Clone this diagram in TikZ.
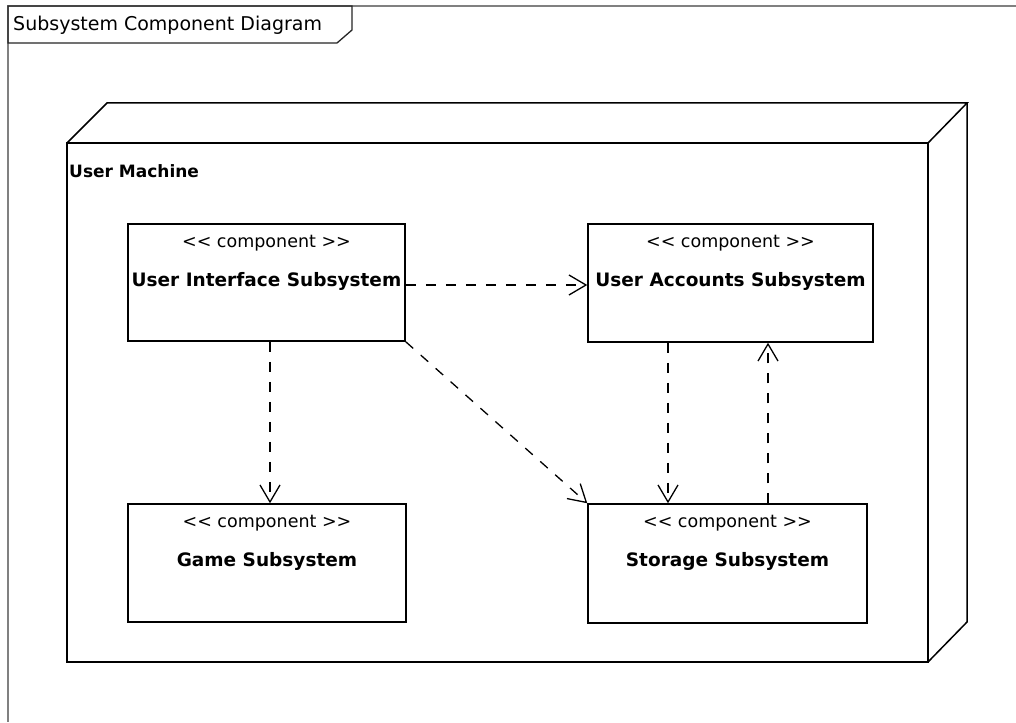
\documentclass[tikz,border=0pt]{standalone}
\usepackage{fontspec}
\setmainfont{DejaVu Sans}
\usetikzlibrary{arrows.meta}
\definecolor{framegray}{RGB}{128,128,128}
\tikzset{
  comp/.style={draw=black, line width=1.5pt, fill=white, rectangle, inner sep=0pt},
  stereo/.style={font=\fontsize{17.5}{20}\selectfont, inner sep=0pt, anchor=center},
  ctitle/.style={font=\fontsize{18.5}{21}\bfseries\selectfont, inner sep=0pt, anchor=center},
  dep/.style={line width=1.3pt, dash pattern=on 10pt off 10pt,
    -{Straight Barb[length=17pt,width=20pt,line width=1.3pt]}},
  nodeline/.style={line width=1.5pt, line join=miter}
}
\begin{document}
\begin{tikzpicture}[x=1pt,y=-1pt]
\useasboundingbox[fill=white] (0,0) rectangle (1016,722);
% frame
\draw[framegray, line width=1.5pt] (1016,6) -- (8,6) -- (8,722);
\draw[line width=1.3pt, black!85] (8,6) -- (352,6) -- (352,30) -- (337,43) -- (8,43) -- cycle;
\node[anchor=west, inner sep=0pt, font=\fontsize{19}{22}\selectfont] (title) at (13,25) {Subsystem Component Diagram};
% 3D node
\draw[nodeline] (67,143) rectangle (928,662);
\draw[nodeline] (67,143) -- (107,103) -- (967,103) -- (928,143);
\draw[nodeline] (967,103) -- (967,622) -- (928,662);
\node[anchor=west, inner sep=0pt, font=\fontsize{17}{20}\bfseries\selectfont] (um) at (69,171) {User Machine};
% components
\node[comp, minimum width=277pt, minimum height=117pt] (ui) at (266.5,282.5) {};
\node[comp, minimum width=285pt, minimum height=118pt] (ua) at (730.5,283) {};
\node[comp, minimum width=278pt, minimum height=118pt] (game) at (267,563) {};
\node[comp, minimum width=279pt, minimum height=119pt] (st) at (727.5,563.5) {};
\foreach \n/\t in {ui/User Interface Subsystem, ua/User Accounts Subsystem, game/Game Subsystem, st/Storage Subsystem}{
  \node[stereo] (\n-s) at ([yshift=-20pt]\n.north) {{<}{<} component {>}{>}};
  \node[ctitle] (\n-t) at ([yshift=-58pt]\n.north) {\t};
}
% dependencies
\draw[dep] (ui.east |- 0,285) -- (ua.west |- 0,285);
\draw[dep] (ui.south -| 270,0) -- (game.north -| 270,0);
\draw[dep] (ui.south east) -- (st.north west);
\draw[dep] (ua.south -| 668,0) -- (st.north -| 668,0);
\draw[dep] (st.north -| 768,0) -- (ua.south -| 768,0);
\end{tikzpicture}
\end{document}
